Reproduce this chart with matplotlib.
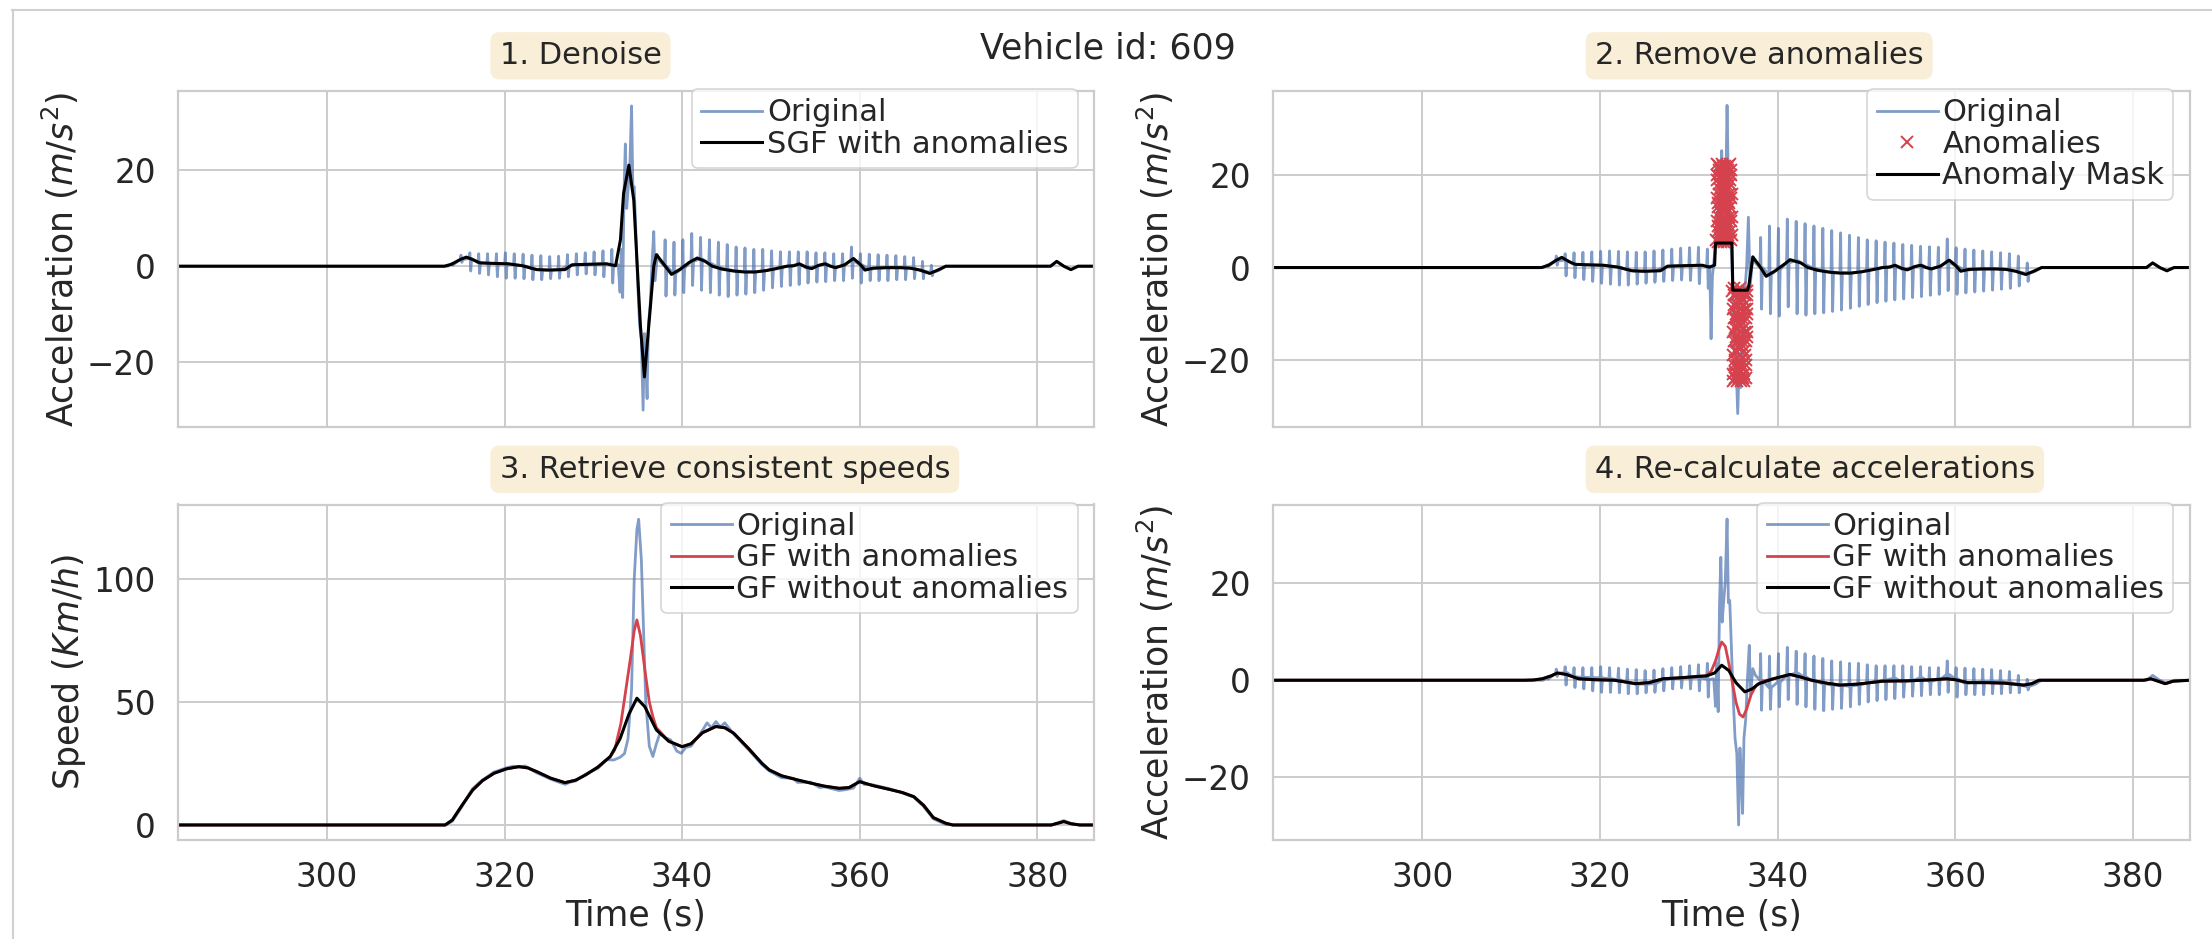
import numpy as np
import matplotlib
matplotlib.use("Agg")
import matplotlib.pyplot as plt
from matplotlib.lines import Line2D

# ---------------- data ----------------
x_ticks = [300, 320, 340, 360, 380]
acc_ticks = [-20, 0, 20]
spd_ticks = [0, 50, 100]

# per-second oscillation of the original acceleration (before / after the event)
sec_a = list(range(314, 333))
base_a = [0.4, 1.4, 1.6, 0.7, 0.6, 0.55, 0.5, 0.3, 0.1, -0.5, -0.8, -0.8, -0.7, 0.0, 0.35, 0.4, 0.45, 0.5, 0.2]
hi1_a = [0.6, 2.3, 2.8, 2.6, 2.6, 2.6, 2.8, 2.6, 2.5, 2.3, 2.2, 2.0, 2.1, 2.4, 2.6, 2.8, 3.0, 3.2, 3.5]
lo1_a = [0.2, 0.8, -1.0, -1.5, -1.8, -2.2, -2.5, -2.5, -2.6, -2.8, -2.8, -2.6, -2.5, -2.2, -1.8, -1.6, -1.8, -2.2, -3.5]
sec_b = list(range(338, 369))
base_b = [0.0, -1.5, -0.4, 1.0, 1.5, 0.6, -0.2, -0.7, -1.0, -1.1, -1.2, -1.0, -0.6, -0.2, 0.1, 0.4,
          -0.4, 0.0, 0.5, -0.2, 0.1, 1.2, 0.3, -0.6, -0.4, -0.3, -0.3, -0.3, -0.5, -1.0, -1.3]
hi1_b = [5.5, 5.0, 5.5, 6.8, 6.0, 5.5, 5.0, 4.5, 4.0, 3.8, 3.5, 3.5, 3.2, 3.0, 3.0, 3.0,
         3.0, 2.8, 2.8, 2.6, 2.6, 4.0, 2.6, 2.5, 2.4, 2.3, 2.2, 2.0, 1.8, 1.0, 0.2]
lo1_b = [-6.2, -6.0, -5.5, -4.0, -5.0, -5.5, -6.0, -6.3, -6.0, -5.8, -5.5, -5.0, -4.5, -4.2, -4.0, -3.8,
         -3.5, -3.3, -3.2, -3.0, -3.0, -2.5, -3.5, -3.0, -3.0, -3.0, -2.8, -2.8, -2.6, -2.6, -2.0]
ev1_t = [332.5, 332.8, 333.0, 333.15, 333.3, 333.45, 333.6, 333.75, 333.9, 334.1,
         334.3, 334.45, 334.6, 334.8, 335.0, 335.2, 335.4, 335.6, 335.75, 335.9,
         336.05, 336.2, 336.4, 336.6, 336.8, 336.95, 337.2, 337.5]
ev1_v = [0.2, 0.3, -5.4, 3.5, -6.5, 15.5, 25.4, 12.0, 15.8, 20.5,
         33.3, 16.0, 16.5, 6.0, -4.0, -12.0, -15.2, -29.9, -14.0, -20.0,
         -27.5, -12.0, -8.0, 0.5, 7.2, -3.0, 2.4, 1.0]

# original acceleration as shown in panel 2
hi2_a = [0.6, 2.5, 3.0, 3.2, 3.3, 3.4, 3.5, 3.6, 3.5, 3.4, 3.3, 3.4, 3.6, 3.8, 4.0, 4.2, 4.3, 4.4, 4.0]
lo2_a = [0.2, 0.5, -1.8, -2.2, -2.6, -3.0, -3.4, -3.6, -3.8, -3.8, -3.6, -3.4, -3.2, -3.0, -2.8, -2.7, -2.8, -3.5, -4.5]
hi2_b = [6.5, 9.0, 8.5, 10.5, 10.0, 9.5, 9.0, 8.5, 8.0, 7.5, 7.0, 6.5, 6.0, 5.8, 5.5, 5.3,
         5.0, 4.8, 4.6, 4.5, 4.4, 6.2, 4.3, 4.0, 3.8, 3.6, 3.4, 3.2, 3.0, 2.5, 1.0]
lo2_b = [-9.0, -10.0, -10.5, -8.5, -10.0, -10.3, -10.0, -9.8, -9.5, -9.2, -8.8, -8.4, -8.0, -7.6, -7.3, -7.0,
         -6.8, -6.5, -6.3, -6.0, -5.8, -5.0, -5.8, -5.5, -5.3, -5.1, -4.9, -4.7, -4.5, -4.0, -3.0]
ev2_t = [332.35, 332.5, 332.65, 332.8, 333.0, 333.2, 333.4, 333.55, 333.7, 333.85,
         334.0, 334.15, 334.3, 334.45, 334.6, 334.8, 335.0, 335.15, 335.3, 335.5,
         335.65, 335.8, 335.95, 336.1, 336.3, 336.5, 336.7, 336.9, 337.2, 337.5]
ev2_v = [0.3, -15.4, -2.0, 1.0, 5.0, 12.0, 8.0, 18.0, 25.3, 14.0,
         20.0, 16.0, 35.1, 18.0, 10.0, 3.0, -8.0, -13.0, -20.0, -31.6,
         -22.0, -26.0, -18.0, -14.0, -5.0, 0.0, 10.9, -4.0, 2.3, 1.0]

lead_t = [283.2, 313.6]
lead_v = [0.0, 0.0]
tail_t = [369.0, 369.7, 381.5, 382.2, 383.0, 383.8, 384.6, 386.4]
tail_v = [-0.8, 0.0, 0.0, 1.0, 0.0, -0.7, 0.0, 0.0]

# panel 1: Savitzky-Golay filtered acceleration
sgf_t = [283.2, 313.2, 314.0, 315.0, 315.7, 316.5, 317.2, 318.5, 320.4, 322.0,
         323.6, 325.0, 326.8, 327.6, 329.5, 331.5, 332.5, 333.05, 333.4, 334.0,
         334.55, 334.9, 335.3, 335.75, 336.4, 336.8, 337.1, 337.9, 338.8, 339.8,
         340.8, 341.7, 342.6, 343.4, 344.5, 345.8, 347.0, 348.2, 349.5, 350.6,
         351.8, 352.6, 353.2, 354.0, 354.6, 355.4, 356.1, 356.7, 357.3, 358.3,
         359.3, 360.0, 360.6, 361.5, 363.0, 364.5, 365.7, 366.8, 367.9, 368.8,
         369.7, 381.5, 382.2, 383.0, 383.8, 384.6, 386.4]
sgf_v = [0, 0, 0.4, 1.4, 1.9, 1.3, 0.7, 0.6, 0.5, 0.1,
         -0.7, -0.8, -0.7, 0.3, 0.4, 0.5, 0.1, 5.5, 15.1, 21.0,
         13.7, 1.4, -12.4, -23.0, -8.9, 0.0, 2.4, 0.5, -1.7, -0.6,
         0.8, 1.7, 1.0, 0.0, -0.6, -1.0, -1.2, -1.2, -0.9, -0.5,
         0.0, 0.1, 0.5, -0.2, -0.5, 0.2, 0.5, 0.0, -0.3, 0.3,
         1.6, 0.5, -0.8, -0.4, -0.3, -0.3, -0.4, -0.8, -1.5, -0.8,
         0, 0, 1.0, 0.0, -0.7, 0.0, 0]

# panel 2: anomaly mask and anomalies
mask_t = [283.2, 313.4, 314.2, 315.0, 315.7, 316.5, 317.2, 318.5, 320.4, 322.0,
          323.6, 325.0, 326.8, 327.6, 329.5, 331.5, 332.3, 332.9, 333.0, 334.85,
          334.95, 336.6, 336.75, 337.2, 337.9, 338.7, 339.8, 340.8, 341.4, 342.6,
          343.4, 344.5, 345.8, 347.0, 348.2, 349.5, 350.6, 351.8, 352.6, 353.2,
          354.0, 354.6, 355.4, 356.1, 356.7, 357.3, 358.3, 359.3, 360.0, 360.6,
          361.5, 363.0, 364.5, 365.7, 366.8, 367.9, 368.8, 369.7, 381.5, 382.2,
          383.0, 383.8, 384.6, 386.4]
mask_v = [0, 0, 0.5, 1.5, 2.2, 1.3, 0.7, 0.6, 0.5, 0.1,
          -0.7, -0.8, -0.7, 0.3, 0.4, 0.5, 0.1, 0.5, 5.3, 5.3,
          -4.9, -4.9, -4.0, 2.3, 0.5, -1.9, -0.6, 0.8, 1.7, 1.0,
          0.0, -0.6, -1.0, -1.2, -1.2, -0.9, -0.5, 0.0, 0.1, 0.5,
          -0.2, -0.5, 0.2, 0.5, 0.0, -0.3, 0.3, 1.6, 0.5, -0.8,
          -0.4, -0.3, -0.3, -0.4, -0.8, -1.5, -0.8, 0, 0, 1.0,
          0.0, -0.7, 0.0, 0]
anom_up_v = [6, 10, 15, 20, 22.5, 19, 14, 9, 5.5, 8,
             13, 18, 22, 21, 16, 11, 6.5, 7, 12, 17,
             21.5, 20, 15, 10, 5.5, 9, 14, 19, 22.5, 18,
             13, 8, 6, 11, 16, 21, 22, 17, 12, 7,
             5.5, 10, 15, 20, 22, 19, 14, 9, 6, 8,
             13, 18, 21.5, 20, 15, 10, 5.5, 7, 12, 17,
             22, 21, 16, 11, 6.5, 9, 14, 19, 22.5, 18,
             13, 8, 6, 10, 15, 20, 21, 16, 11, 7]
anom_up_span = (333.1, 334.85)
anom_lo_v = [-5, -9, -14, -19, -23, -24.5, -21, -16, -11, -6,
             -4.5, -8, -13, -18, -22.5, -24, -20, -15, -10, -5.5,
             -6, -11, -16, -21, -24.5, -23, -18, -13, -8, -5,
             -7, -12, -17, -22, -24, -21, -16, -11, -6, -4.5,
             -9, -14, -19, -23.5, -24.5, -20, -15, -10, -5.5, -6.5,
             -11, -16, -21, -24, -22, -17, -12, -7, -5, -8,
             -13, -18, -23, -24.5, -19, -14, -9, -5.5, -6, -11,
             -16, -21, -24, -20, -15, -10, -6, -5, -9, -14]
anom_lo_span = (334.9, 336.6)

# panel 3: speeds
spd_t = [283.2, 313.3, 314.1, 315.2, 316.4, 317.5, 318.8, 320.2, 321.6, 322.6,
         323.6, 325.2, 326.8, 328.0, 329.1, 330.5, 331.9, 333.0, 334.0, 334.9,
         335.8, 337.1, 338.5, 340.0, 341.0, 342.3, 343.8, 344.8, 345.8, 347.5,
         349.0, 349.8, 351.2, 353.0, 354.5, 356.0, 357.7, 358.8, 360.0, 361.5,
         363.3, 364.8, 366.1, 367.2, 368.3, 369.7, 370.5, 381.6, 382.4, 383.0,
         383.8, 384.8, 386.4]
spd_v = [0, 0, 2.0, 8.0, 14.2, 18.0, 21.0, 22.8, 23.7, 23.2,
         21.7, 19.0, 17.2, 18.2, 20.3, 23.5, 27.8, 35.0, 45.0, 51.5,
         48.0, 38.6, 34.0, 31.8, 33.0, 37.5, 40.0, 39.5, 37.3, 31.0,
         25.0, 22.4, 20.0, 18.3, 17.0, 15.8, 14.9, 15.2, 17.6, 16.0,
         14.5, 13.2, 11.5, 8.0, 3.0, 0.7, 0, 0, 0.8, 1.4,
         0.5, 0, 0]
spd_red_t = [332.4, 333.1, 333.7, 334.2, 334.6, 334.9, 335.3, 335.9, 336.3, 336.7, 337.1]
spd_red_v = [30.5, 41.3, 56.0, 68.4, 79.0, 83.3, 77.0, 60.3, 50.0, 44.0, 39.5]
spd_orig_t = [283.2, 313.3, 314.1, 315.2, 316.0, 316.4, 317.5, 318.8, 320.2, 321.0,
              321.6, 322.3, 323.6, 325.2, 326.8, 327.4, 328.0, 329.1, 330.5, 331.5,
              332.3, 333.0, 333.5, 333.9, 334.3, 334.6, 334.9, 335.1, 335.4, 335.6,
              335.9, 336.3, 336.7, 337.1, 337.5, 338.1, 338.7, 339.4, 339.9, 340.4,
              341.0, 342.3, 342.8, 343.3, 343.8, 344.3, 344.8, 345.8, 347.5, 349.0,
              349.8, 351.2, 352.5, 353.0, 354.5, 355.5, 356.0, 357.7, 358.5, 359.3,
              360.0, 360.5, 361.5, 363.3, 364.8, 366.1, 367.2, 368.3, 369.7, 370.5,
              381.6, 382.4, 383.0, 383.8, 384.8, 386.4]
spd_orig_v = [0, 0, 1.5, 7.5, 12.5, 14.8, 18.3, 21.5, 23.2, 23.9,
              23.5, 24.0, 21.2, 18.6, 16.5, 17.4, 17.9, 20.6, 23.0, 26.5,
              26.4, 27.5, 29.0, 35.0, 55.0, 100.0, 120.0, 124.2, 108.0, 85.0,
              50.0, 32.0, 27.8, 33.0, 37.3, 35.5, 34.6, 30.0, 29.1, 31.5,
              32.0, 38.5, 41.5, 39.5, 42.0, 39.8, 41.5, 37.0, 30.5, 24.5,
              22.0, 19.2, 19.0, 17.3, 17.4, 15.2, 15.5, 14.0, 14.4, 15.0,
              19.0, 16.5, 16.3, 14.8, 13.0, 11.3, 7.5, 2.5, 0.2, 0,
              0, 1.0, 1.8, 0.6, 0, 0]

# panel 4: re-calculated accelerations
gf_t = [283.2, 311.5, 312.5, 313.5, 314.5, 315.2, 316.2, 317.6, 319.5, 321.6,
        323.0, 324.0, 325.5, 327.1, 329.0, 331.1, 332.0, 332.9, 333.7, 334.5,
        335.3, 336.3, 337.1, 337.9, 339.5, 341.4, 342.5, 343.8, 345.5, 347.0,
        349.0, 351.8, 355.0, 357.5, 359.0, 360.0, 361.4, 363.5, 365.5, 367.7,
        368.6, 369.4, 381.2, 382.0, 382.8, 383.6, 384.5, 386.4]
gf_v = [0, 0, 0.05, 0.3, 0.9, 1.5, 1.2, 0.3, 0.1, 0.0,
        -0.4, -0.7, -0.5, 0.3, 0.5, 0.8, 0.9, 1.5, 3.1, 2.0,
        -0.5, -2.4, -1.8, -0.7, 0.3, 1.2, 0.7, 0.0, -0.6, -1.0,
        -0.8, -0.2, -0.1, 0.1, 0.3, 0.1, -0.5, -0.5, -0.6, -1.0,
        -0.7, 0.0, 0.0, 0.3, -0.2, -0.7, -0.2, 0]
gf_red_t = [331.9, 332.5, 333.0, 333.4, 333.7, 334.1, 334.5, 334.9, 335.3, 335.7, 336.1, 336.5, 337.0, 337.6, 338.3]
gf_red_v = [0.9, 1.8, 4.0, 6.5, 7.9, 7.0, 3.5, -0.5, -4.5, -7.0, -7.6, -6.0, -3.0, -1.0, -0.2]

titles = ["1. Denoise", "2. Remove anomalies", "3. Retrieve consistent speeds", "4. Re-calculate accelerations"]
suptitle = "Vehicle id: 609"


# ---------------- helpers ----------------
def build_original(hi_a, lo_a, ev_t, ev_v, hi_b, lo_b):
    t, v = list(lead_t), list(lead_v)
    for k, b, h, l in zip(sec_a, base_a, hi_a, lo_a):
        t += [k, k + 0.08, k + 0.18, k + 0.28]
        v += [b, h, l, b]
    t += ev_t
    v += ev_v
    for k, b, h, l in zip(sec_b, base_b, hi_b, lo_b):
        t += [k, k + 0.08, k + 0.18, k + 0.28]
        v += [b, h, l, b]
    t += tail_t
    v += tail_v
    return np.array(t), np.array(v)


def splice(base_t, base_v, seg_t, seg_v):
    bt, bv = np.array(base_t), np.array(base_v)
    st, sv = np.array(seg_t), np.array(seg_v)
    left = bt < st[0]
    right = bt > st[-1]
    return np.concatenate([bt[left], st, bt[right]]), np.concatenate([bv[left], sv, bv[right]])


acc1_t, acc1_v = build_original(hi1_a, lo1_a, ev1_t, ev1_v, hi1_b, lo1_b)
acc2_t, acc2_v = build_original(hi2_a, lo2_a, ev2_t, ev2_v, hi2_b, lo2_b)
spd_red_full_t, spd_red_full_v = splice(spd_t, spd_v, spd_red_t, spd_red_v)
gf_red_full_t, gf_red_full_v = splice(gf_t, gf_v, gf_red_t, gf_red_v)
anom_up_t = np.linspace(anom_up_span[0], anom_up_span[1], len(anom_up_v))
anom_lo_t = np.linspace(anom_lo_span[0], anom_lo_span[1], len(anom_lo_v))

# ---------------- style ----------------
TXT = "#262626"
plt.rcParams.update({
    "font.family": ["DejaVu Sans"],
    "text.color": TXT,
    "axes.labelcolor": TXT,
    "xtick.color": TXT,
    "ytick.color": TXT,
    "axes.edgecolor": "#cccccc",
    "axes.linewidth": 1.6,
    "grid.color": "#cccccc",
    "grid.linewidth": 1.4,
    "xtick.major.size": 0,
    "ytick.major.size": 0,
    "xtick.major.pad": 15,
    "ytick.major.pad": 16,
    "xtick.labelsize": 23.5,
    "ytick.labelsize": 23.5,
    "axes.labelsize": 25,
    "legend.fontsize": 22,
    "mathtext.fontset": "dejavusans",
})

BLUE = "#4C72B0"
RED = "#D5414C"
W, H = 2212, 939
fig = plt.figure(figsize=(W / 100, H / 100), dpi=100)


def axes_px(x0, x1, top, bottom):
    return fig.add_axes([x0 / W, 1 - bottom / H, (x1 - x0) / W, (bottom - top) / H])


ax1 = axes_px(178, 1094, 91, 427)
ax2 = axes_px(1273, 2190, 91, 427)
ax3 = axes_px(178, 1094, 504.5, 840)
ax4 = axes_px(1273, 2190, 504.5, 840)
axes = [ax1, ax2, ax3, ax4]

for ax in axes:
    ax.set_facecolor("white")
    ax.grid(True)
    ax.set_axisbelow(True)
    ax.set_xlim(283.2, 386.4)
    ax.set_xticks(x_ticks)
    for s in ax.spines.values():
        s.set_color("#cccccc")

BLUE_KW = dict(color=BLUE, alpha=0.7, lw=2.0)

# panel 1
ax1.plot(acc1_t, acc1_v, label="Original", **BLUE_KW)
ax1.plot(sgf_t, sgf_v, color="black", lw=2.2, label="SGF with anomalies")
ax1.set_ylim(-33.4, 36.4)

# panel 2
ax2.plot(acc2_t, acc2_v, label="Original", **BLUE_KW)
ax2.plot(np.concatenate([anom_up_t, anom_lo_t]), np.concatenate([anom_up_v, anom_lo_v]),
         ls="none", marker="x", ms=8, mew=1.4, color=RED, label="Anomalies")
ax2.plot(mask_t, mask_v, color="black", lw=2.2, label="Anomaly Mask")
ax2.set_ylim(-34.5, 38.2)

# panel 3
ax3.plot(spd_orig_t, spd_orig_v, label="Original", **BLUE_KW)
ax3.plot(spd_red_full_t, spd_red_full_v, color=RED, lw=2.0, label="GF with anomalies")
ax3.plot(spd_t, spd_v, color="black", lw=2.2, label="GF without anomalies")
ax3.set_ylim(-6.1, 130.2)

# panel 4
ax4.plot(acc1_t, acc1_v, label="Original", **BLUE_KW)
ax4.plot(gf_red_full_t, gf_red_full_v, color=RED, lw=2.0, label="GF with anomalies")
ax4.plot(gf_t, gf_v, color="black", lw=2.2, label="GF without anomalies")
ax4.set_ylim(-33.0, 36.3)

for ax in (ax1, ax2, ax4):
    ax.set_yticks(acc_ticks)
    ax.set_ylabel("Acceleration ($m/s^2$)")
ax3.set_yticks(spd_ticks)
ax3.set_ylabel("Speed ($Km/h$)")

for ax in (ax1, ax2):
    ax.tick_params(labelbottom=False)
for ax in (ax3, ax4):
    ax.set_xlabel("Time (s)")

for ax, title in zip(axes, titles):
    ax.text(0.351, 1.0795, title, transform=ax.transAxes, ha="left", va="baseline",
            fontsize=22, color=TXT,
            bbox=dict(boxstyle="round,pad=0.3", facecolor="wheat", edgecolor="none", alpha=0.5))
    leg = ax.legend(loc="upper right", bbox_to_anchor=(0.982, 1.005), borderaxespad=0,
                    handlelength=2.0, handletextpad=0.15, labelspacing=0.08, borderpad=0.3,
                    frameon=True, fancybox=True, framealpha=0.8, edgecolor="#cccccc")
    leg.get_frame().set_linewidth(1.2)

fig.text(0.501, 0.9372, suptitle, ha="center", va="baseline", fontsize=25, color=TXT)

# screenshot frame lines
fig.add_artist(Line2D([12 / W, 1], [1 - 10 / H, 1 - 10 / H], color="#d0d0d0", lw=1.5, transform=fig.transFigure))
fig.add_artist(Line2D([12.7 / W, 12.7 / W], [0, 1 - 10 / H], color="#d0d0d0", lw=1.5, transform=fig.transFigure))

fig.savefig("out.png", dpi=100, facecolor="white")
